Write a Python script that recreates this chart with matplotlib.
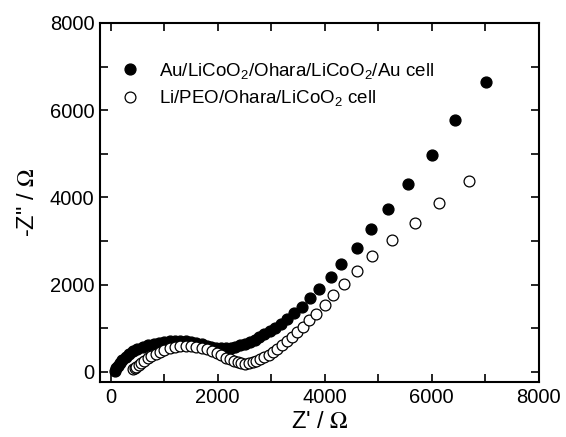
import matplotlib
matplotlib.use('Agg')
import matplotlib.pyplot as plt

# Au/LiCoO2/Ohara/LiCoO2/Au cell (filled), Z' and -Z'' in ohm
au_re = [80, 100, 130, 170, 220, 280, 350, 420, 500, 600, 700, 800, 900, 1000,
         1100, 1200, 1300, 1400, 1500, 1600, 1700, 1790, 1880, 1970, 2060,
         2150, 2240, 2330, 2420, 2510, 2600, 2690, 2780, 2870, 2970, 3070,
         3180, 3300, 3430, 3570, 3720, 3890, 4110, 4310, 4600, 4860, 5190,
         5550, 6000, 6440, 7020]
au_im = [30, 80, 140, 210, 280, 350, 410, 470, 520, 570, 610, 640, 670, 690,
         700, 710, 710, 700, 680, 660, 630, 600, 580, 560, 550, 550, 560, 580,
         610, 650, 690, 740, 800, 860, 930, 1010, 1100, 1210, 1340, 1490, 1700,
         1900, 2180, 2480, 2840, 3280, 3740, 4310, 4980, 5780, 6650]

# Li/PEO/Ohara/LiCoO2 cell (open)
peo_re = [420, 450, 480, 520, 570, 630, 690, 760, 840, 920, 1000, 1100, 1200,
          1300, 1400, 1500, 1600, 1700, 1800, 1890, 1980, 2070, 2150, 2230,
          2300, 2370, 2440, 2510, 2580, 2650, 2720, 2790, 2870, 2950, 3030,
          3110, 3200, 3290, 3380, 3480, 3590, 3700, 3830, 4000, 4160, 4350,
          4600, 4890, 5250, 5680, 6140, 6700]
peo_im = [60, 90, 120, 160, 210, 260, 310, 360, 410, 460, 500, 540, 570, 590,
          600, 600, 580, 560, 520, 480, 430, 380, 330, 290, 250, 220, 200, 190,
          200, 220, 250, 290, 340, 400, 460, 530, 610, 700, 800, 910, 1030,
          1190, 1330, 1540, 1770, 2020, 2320, 2660, 3030, 3420, 3880, 4380]

label_au = 'Au/LiCoO$_2$/Ohara/LiCoO$_2$/Au cell'
label_peo = 'Li/PEO/Ohara/LiCoO$_2$ cell'

plt.rcParams['font.family'] = 'Liberation Sans'
plt.rcParams['mathtext.fontset'] = 'custom'
plt.rcParams['mathtext.rm'] = 'Liberation Sans'
plt.rcParams['mathtext.it'] = 'Liberation Sans'

fig = plt.figure(figsize=(5.66, 4.37), dpi=100)
ax = fig.add_axes([0.1767, 0.1259, 0.7753, 0.8215])

ax.plot(au_re, au_im, 'o', color='black', ms=7.8, label=label_au)
ax.plot(peo_re, peo_im, 'o', mfc='white', mec='black', mew=0.9, ms=7.8,
        label=label_peo)

ax.set_xlim(-200, 8000)
ax.set_ylim(-230, 8000)
ax.set_xticks([0, 2000, 4000, 6000, 8000])
ax.set_yticks([0, 2000, 4000, 6000, 8000])
ax.set_xticks(range(0, 8001, 1000), minor=True)
ax.set_yticks(range(0, 8001, 1000), minor=True)
ax.tick_params(which='both', direction='in', top=True, right=True,
               length=6, width=1.2, labelsize=14.5, pad=4)
for s in ax.spines.values():
    s.set_linewidth(1.5)

ax.set_xlabel("Z' / $\\Omega$", fontsize=17, math_fontfamily='stix', labelpad=3)
ax.set_ylabel('-Z" / $\\Omega$', fontsize=17, math_fontfamily='stix', labelpad=8)

ax.legend(loc='upper left', bbox_to_anchor=(0.018, 0.937), frameon=False,
          fontsize=13.5, handlelength=0.8, handletextpad=1.1, labelspacing=0.4,
          borderpad=0.3)

plt.savefig('out.png', dpi=100)
